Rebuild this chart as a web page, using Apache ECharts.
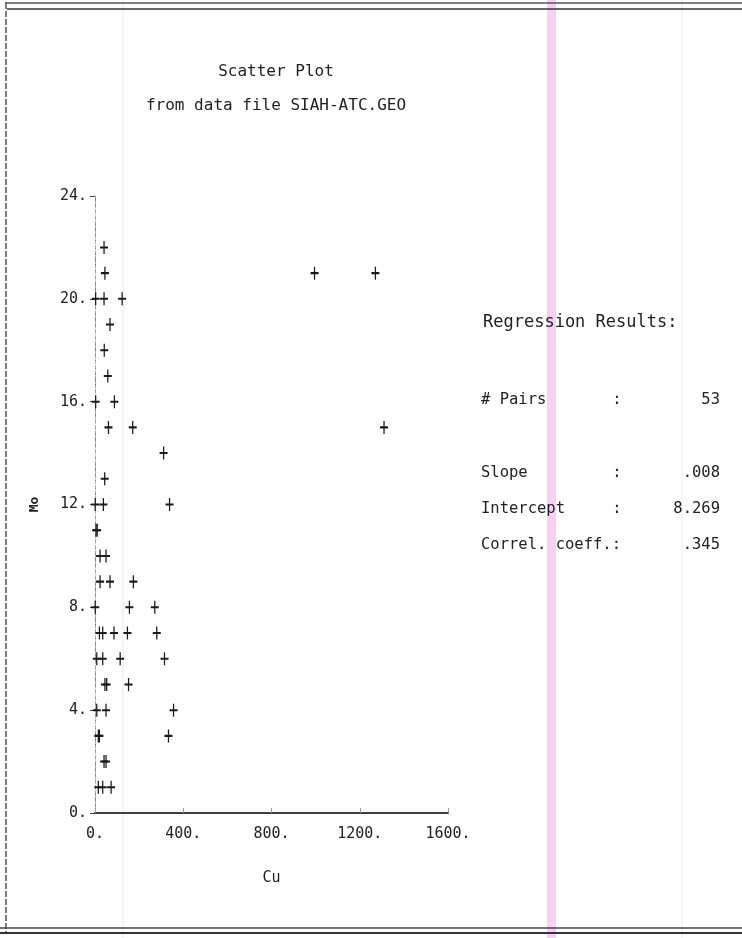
<!DOCTYPE html>
<html><head><meta charset="utf-8">
<script src="https://cdn.jsdelivr.net/npm/echarts@6/dist/echarts.min.js"></script>
<style>html,body{margin:0;padding:0;background:#fff}#c{width:742px;height:938px}</style>
</head><body><div id="c"></div>
<script>
// Cu (x) values
const cuValues = [41,45,995,1271,3,41,123,68,42,58,3,88,61,171,1310,311,44,1,38,338,10,5,23,50,23,68,174,1,156,271,20,35,86,147,280,8,35,114,315,53,45,152,8,50,356,20,15,333,41,50,15,35,73];
// Mo (y) values
const moValues = [22,21,21,21,20,20,20,19,18,17,16,16,15,15,15,14,13,12,12,12,11,11,10,10,9,9,9,8,8,8,7,7,7,7,7,6,6,6,6,5,5,5,4,4,4,3,3,3,2,2,1,1,1];
const xTicks = [0,400,800,1200,1600];
const yTicks = [0,4,8,12,16,20,24];
const titleLines = ['Scatter Plot','from data file SIAH-ATC.GEO'];
const resultLabels = ['# Pairs','Slope','Intercept','Correl. coeff.:'];
const resultSeps = [':',':',':',''];
const resultValues = ['53','.008','8.269','.345'];

const mono = '"DejaVu Sans Mono", "Liberation Mono", monospace';
const ink = '#222';
const pts = cuValues.map((x,i)=>[x, moValues[i]]);

const chart = echarts.init(document.getElementById('c'), null, {renderer:'canvas'});
const resultY = [400, 473, 509, 545];
const graphics = [
  // page frame
  {type:'line', shape:{x1:5,y1:3,x2:742,y2:3}, style:{stroke:'#555',lineWidth:1.5}},
  {type:'line', shape:{x1:7,y1:9,x2:742,y2:9}, style:{stroke:'#333',lineWidth:1.5}},
  {type:'line', shape:{x1:6,y1:3,x2:6,y2:933}, style:{stroke:'#555',lineWidth:1.5,lineDash:[6,2]}},
  {type:'line', shape:{x1:0,y1:928,x2:742,y2:928}, style:{stroke:'#444',lineWidth:1.5}},
  {type:'line', shape:{x1:0,y1:933,x2:742,y2:933}, style:{stroke:'#333',lineWidth:2}},
  // scan artifacts
  {type:'rect', shape:{x:547,y:0,width:9,height:938}, style:{fill:'rgba(240,170,235,0.55)'}, z:-1},
  {type:'line', shape:{x1:123,y1:0,x2:123,y2:938}, style:{stroke:'rgba(225,225,240,0.8)',lineWidth:1}, z:-1},
  {type:'line', shape:{x1:682,y1:0,x2:682,y2:938}, style:{stroke:'rgba(235,230,235,0.8)',lineWidth:1}, z:-1},
  // title
  {type:'text', x:276, y:72, style:{text:titleLines[0], font:'16px '+mono, fill:ink, textAlign:'center', textVerticalAlign:'middle'}},
  {type:'text', x:276, y:106, style:{text:titleLines[1], font:'16px '+mono, fill:ink, textAlign:'center', textVerticalAlign:'middle'}},
  // regression results
  {type:'text', x:483, y:323, style:{text:'Regression Results:', font:'17px '+mono, fill:ink, textVerticalAlign:'middle'}}
];
resultLabels.forEach((lab,i)=>{
  graphics.push({type:'text', x:481, y:resultY[i], style:{text:lab, font:'15.5px '+mono, fill:ink, textVerticalAlign:'middle'}});
  if (resultSeps[i]) graphics.push({type:'text', x:617, y:resultY[i], style:{text:resultSeps[i], font:'15.5px '+mono, fill:ink, textAlign:'center', textVerticalAlign:'middle'}});
  graphics.push({type:'text', x:720, y:resultY[i], style:{text:resultValues[i], font:'15.5px '+mono, fill:ink, textAlign:'right', textVerticalAlign:'middle'}});
});

chart.setOption({
  animation:false,
  backgroundColor:'#fff',
  grid:{left:95, right:294, top:196, bottom:125},
  xAxis:[{
    type:'value', min:xTicks[0], max:xTicks[xTicks.length-1], interval:400,
    name:'Cu', nameLocation:'middle', nameGap:58,
    nameTextStyle:{fontFamily:mono, fontSize:15, color:ink},
    axisLine:{show:true, onZero:false, lineStyle:{color:'#333', width:2}},
    axisTick:{show:true, inside:true, length:5, lineStyle:{color:'#999'}},
    axisLabel:{fontFamily:mono, fontSize:15, color:ink, margin:14, formatter:v=>v+'.', showMaxLabel:true, showMinLabel:true},
    splitLine:{show:false}
  },{
    type:'value', position:'top', min:0, max:1600, interval:400,
    axisLine:{show:true, lineStyle:{color:'#444', width:1.5}},
    axisTick:{show:false}, axisLabel:{show:false}, splitLine:{show:false}
  }],
  yAxis:[{
    type:'value', min:yTicks[0], max:yTicks[yTicks.length-1], interval:4,
    name:'Mo', nameLocation:'middle', nameGap:54, nameRotate:90,
    nameTextStyle:{fontFamily:mono, fontSize:13, fontWeight:'bold', color:ink},
    axisLine:{show:true, onZero:false, lineStyle:{color:'#777', width:1, type:[3,3]}},
    axisTick:{show:true, length:5, lineStyle:{color:'#444'}},
    axisLabel:{fontFamily:mono, fontSize:15, color:ink, margin:8, formatter:v=>v+'.'},
    splitLine:{show:false}
  },{
    type:'value', position:'right', min:0, max:24, interval:4,
    axisLine:{show:true, lineStyle:{color:'#aaa', width:1, type:[2,3]}},
    axisTick:{show:false}, axisLabel:{show:false}, splitLine:{show:false}
  }],
  graphic:graphics,
  series:[{
    type:'scatter', xAxisIndex:0, yAxisIndex:0,
    data:pts,
    symbol:'path://M5,0 L5,10 M0,5 L10,5',
    symbolSize:[8,13],
    itemStyle:{color:'none', borderColor:'#1a1a1a', borderWidth:1.6, opacity:1}
  }]
});
</script></body></html>
